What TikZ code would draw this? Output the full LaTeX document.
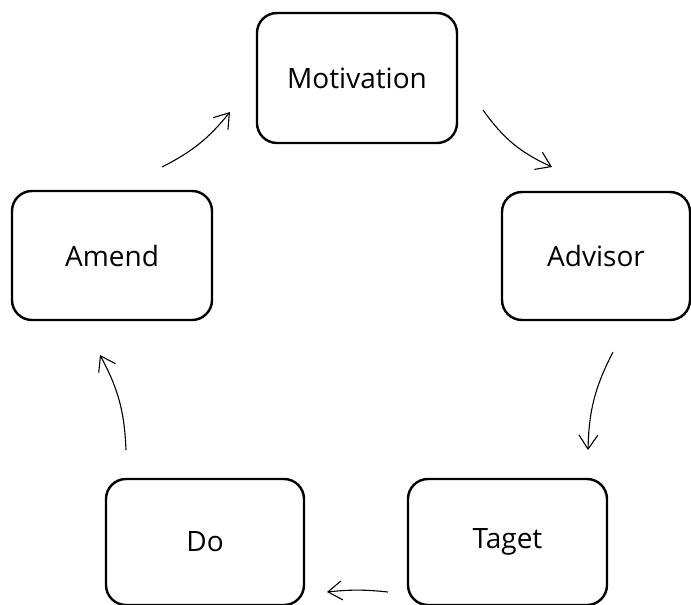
\documentclass[tikz,border=0pt]{standalone}
\usepackage{fontspec}
\setmainfont{Open Sans}
\usetikzlibrary{arrows.meta}
\begin{document}
\begin{tikzpicture}[x=1pt,y=-1pt,
  stage/.style={draw,line width=2.4pt,rounded corners=20pt,font=\fontsize{28}{32}\selectfont},
  flow/.style={line width=1.1pt,-{Straight Barb[length=14pt,width=19pt,line width=1.1pt]}}]
\useasboundingbox (0,0) rectangle (691,605);
\node[stage,minimum width=200pt,minimum height=130pt] (mot) at (357,78) {Motivation};
\node[stage,minimum width=188pt,minimum height=128pt] (adv) at (596,256) {Advisor};
\node[stage,minimum width=200pt,minimum height=129pt] (ame) at (112,255.5) {Amend};
\node[stage,minimum width=198pt,minimum height=126pt] (do) at (205,542) {Do};
\node[stage,minimum width=199pt,minimum height=126pt] (tag) at (507.5,542) {Taget};
\coordinate (a1) at (483,110); \coordinate (b1) at (552,167);
\coordinate (a2) at (613,352); \coordinate (b2) at (588,450);
\coordinate (a3) at (388,592); \coordinate (b3) at (327,592);
\coordinate (a4) at (126,450); \coordinate (b4) at (100,355);
\coordinate (a5) at (162,167); \coordinate (b5) at (230,112);
\draw[flow] (a1) to[bend right=15] (b1);
\draw[flow] (a2) to[bend right=13] (b2);
\draw[flow] (a3) to[bend right=6] (b3);
\draw[flow] (a4) to[bend right=13] (b4);
\draw[flow] (a5) to[bend right=12] (b5);
\end{tikzpicture}
\end{document}
